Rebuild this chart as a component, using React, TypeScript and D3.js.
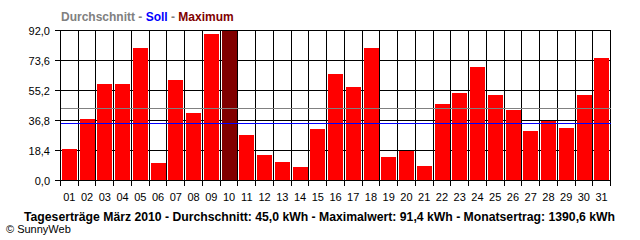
import React from "react";
import * as d3 from "d3";

const days = ["01","02","03","04","05","06","07","08","09","10","11","12","13","14","15","16","17","18","19","20","21","22","23","24","25","26","27","28","29","30","31"];
const yields = [19.2,37.6,59.1,59.1,81.1,10.6,61.5,41.3,89.7,91.4,27.8,15.5,11.2,8.2,31.5,65.2,57.2,81.1,14.3,18.0,8.8,46.8,53.5,69.5,52.3,43.1,30.2,36.6,32.1,52.3,75.0];
const yTicks = [0, 18.4, 36.8, 55.2, 73.6, 92.0];
const averageLine = 44.2;
const targetLine = 35.0;
const maxValue = 91.4;
const footer = "Tageserträge März 2010 - Durchschnitt: 45,0 kWh - Maximalwert: 91,4 kWh - Monatsertrag: 1390,6 kWh";

export default function App() {
  const W = 640, H = 240;
  const x = d3.scaleBand<string>().domain(days).range([60.5, 610.5]).padding(0);
  const y = d3.scaleLinear().domain([0, 92]).range([180.5, 30.5]);
  const bw = x.bandwidth();
  const left = 60.5, right = 610.5;
  const fmt = (v: number) => v.toFixed(1).replace(".", ",");
  const font = "'Liberation Sans', Arial, sans-serif";
  const snap = (v: number) => Math.round(v - 0.5) + 0.5;
  return (
    <svg width={W} height={H} style={{ position: "absolute", left: 0, top: 0, background: "#fff" }} fontFamily={font}>
      <rect x={0} y={0} width={W} height={H} fill="#fff" />
      {/* title */}
      <text x={61} y={20.5} fontSize={12} fontWeight="bold">
        <tspan fill="#808080">Durchschnitt - </tspan>
        <tspan fill="#0000ff">Soll</tspan>
        <tspan fill="#808080"> - </tspan>
        <tspan fill="#800000">Maximum</tspan>
      </text>
      {/* horizontal grid + y ticks */}
      {yTicks.map((t) => (
        <g key={t}>
          <line x1={55} x2={right} y1={snap(y(t))} y2={snap(y(t))} stroke="#000" strokeWidth={1} shapeRendering="crispEdges" />
          <text x={50} y={snap(y(t)) + 4} fontSize={11} textAnchor="end" fill="#000">{fmt(t)}</text>
        </g>
      ))}
      {/* vertical grid */}
      {[...days.map((d) => x(d) as number), right].map((vx, i) => (
        <line key={i} x1={snap(vx)} x2={snap(vx)} y1={30.5} y2={186} stroke="#000" strokeWidth={1} shapeRendering="crispEdges" />
      ))}
      {/* bars */}
      {days.map((d, i) => {
        const x0 = (x(d) as number) + 1.5;
        const v = yields[i];
        return (
          <rect key={d} x={Math.round(x0)} y={Math.round(y(v))} width={Math.round(bw - 2.5)} height={Math.round(y(0) - y(v))}
            fill={v === maxValue ? "#800000" : "#ff0000"} shapeRendering="crispEdges" />
        );
      })}
      {/* average & target lines */}
      <line x1={left} x2={right} y1={snap(y(averageLine))} y2={snap(y(averageLine))} stroke="#808080" strokeWidth={1} shapeRendering="crispEdges" />
      <line x1={left} x2={right} y1={snap(y(targetLine))} y2={snap(y(targetLine))} stroke="#0000ff" strokeWidth={1} shapeRendering="crispEdges" />
      {/* axis baseline */}
      <line x1={55} x2={right} y1={snap(y(0))} y2={snap(y(0))} stroke="#000" strokeWidth={1} shapeRendering="crispEdges" />
      {/* x labels */}
      {days.map((d) => (
        <text key={d} x={(x(d) as number) + bw / 2} y={201} fontSize={11} textAnchor="middle" fill="#000">{d}</text>
      ))}
      {/* footer */}
      <text x={24} y={221} fontSize={12} fontWeight="bold" fill="#000" textLength={591} lengthAdjust="spacingAndGlyphs">{footer}</text>
      <text x={6} y={233} fontSize={11} fill="#000">© SunnyWeb</text>
    </svg>
  );
}
